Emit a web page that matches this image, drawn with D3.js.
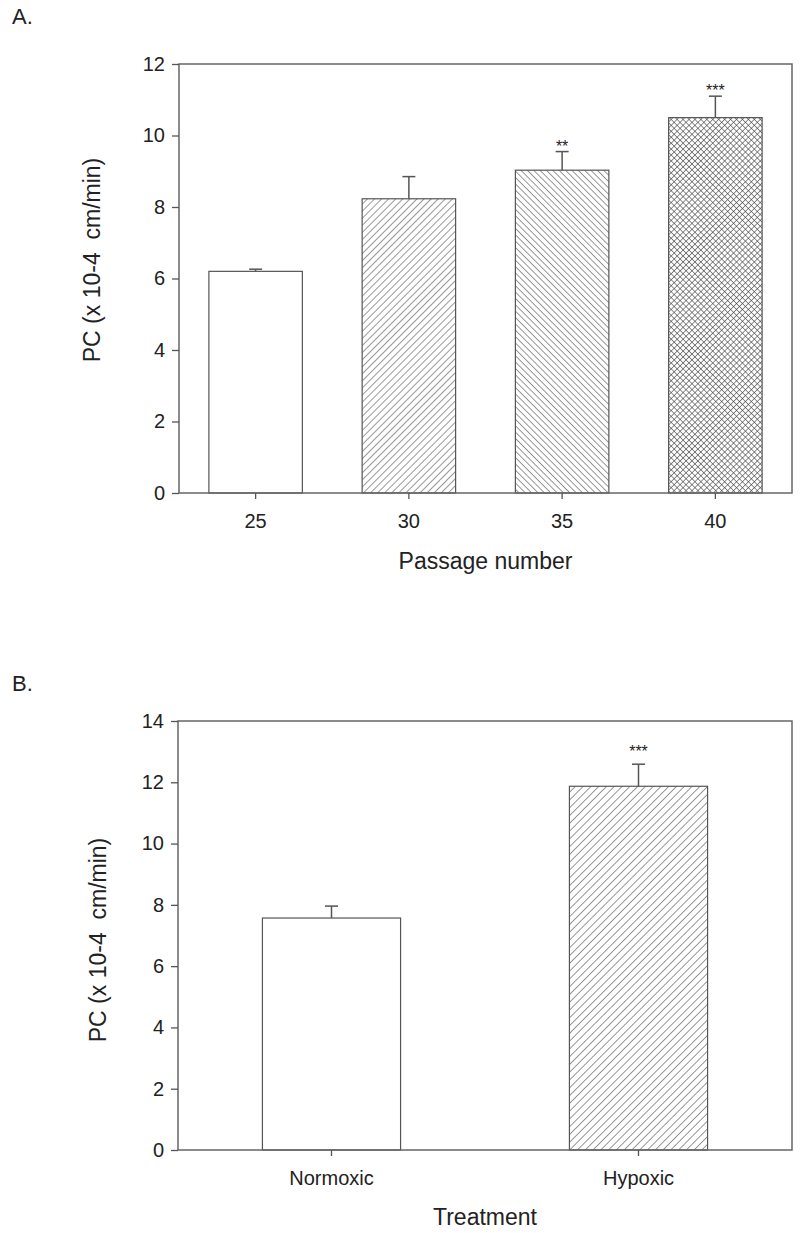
<!DOCTYPE html>
<html><head><meta charset="utf-8">
<script src="https://cdn.jsdelivr.net/npm/d3@7"></script>
<style>
body{margin:0;background:#fff;}
text{font-family:"Liberation Sans",Arial,sans-serif;fill:#222;}
</style></head>
<body>
<svg id="chart" width="800" height="1233"></svg>
<script>
// Panel A data
const passageCategories = ["25","30","35","40"];
const passageMeans = [6.2, 8.23, 9.03, 10.5];
const passageErrors = [0.06, 0.62, 0.52, 0.6];
const passageSig = ["", "", "**", "***"];
const passageFills = ["none","fwd","back","cross"];
const yTicksA = [0,2,4,6,8,10,12];

// Panel B data
const treatmentCategories = ["Normoxic","Hypoxic"];
const treatmentMeans = [7.57, 11.87];
const treatmentErrors = [0.39, 0.72];
const treatmentSig = ["", "***"];
const treatmentFills = ["none","fwd2"];
const yTicksB = [0,2,4,6,8,10,12,14];

const yTitle = "PC (x 10-4  cm/min)";

const svg = d3.select("#chart");
const defs = svg.append("defs");
const ink = "#444";

function hatch(id, spacing, angle){
  const p = defs.append("pattern").attr("id", id)
    .attr("patternUnits","userSpaceOnUse")
    .attr("width", spacing).attr("height", spacing)
    .attr("patternTransform", `rotate(${angle})`);
  p.append("rect").attr("width",spacing).attr("height",spacing).attr("fill","#fff");
  p.append("line").attr("x1",0).attr("y1",0).attr("x2",0).attr("y2",spacing)
    .attr("stroke",ink).attr("stroke-width",1.1);
}
hatch("fwd", 5, 45);
hatch("back", 4.5, -45);
hatch("fwd2", 5.5, 45);
{
  const s = 4.2;
  const p = defs.append("pattern").attr("id","cross")
    .attr("patternUnits","userSpaceOnUse").attr("width",s).attr("height",s)
    .attr("patternTransform","rotate(45)");
  p.append("rect").attr("width",s).attr("height",s).attr("fill","#fff");
  p.append("line").attr("x1",0).attr("y1",0).attr("x2",0).attr("y2",s).attr("stroke",ink).attr("stroke-width",1.2);
  p.append("line").attr("x1",0).attr("y1",0).attr("x2",s).attr("y2",0).attr("stroke",ink).attr("stroke-width",1.2);
}

function panel(opts){
  const {cats, means, errs, sig, fills, ticks, x0, x1, yBottom, yTop, yMax, sigOffset,
         padIn, padOut, tickFont, xTitle, xTitleY, tickLabelY, yTitleX, yTitleY, label, labelY} = opts;
  const x = d3.scaleBand().domain(cats).range([x0, x1]).paddingInner(padIn).paddingOuter(padOut);
  const y = d3.scaleLinear().domain([0, yMax]).range([yBottom, yTop]);
  const g = svg.append("g");

  // bars
  g.selectAll("rect.bar").data(cats).enter().append("rect")
    .attr("x", d => x(d)).attr("width", x.bandwidth())
    .attr("y", (d,i) => y(means[i])).attr("height", (d,i) => y(0) - y(means[i]))
    .attr("fill", (d,i) => fills[i] === "none" ? "#fff" : `url(#${fills[i]})`)
    .attr("stroke", "#555").attr("stroke-width", 1.2);

  // error bars
  g.selectAll("line.err").data(cats).enter().append("line")
    .attr("x1", d => x(d) + x.bandwidth()/2).attr("x2", d => x(d) + x.bandwidth()/2)
    .attr("y1", (d,i) => y(means[i])).attr("y2", (d,i) => y(means[i] + errs[i]))
    .attr("stroke", "#555").attr("stroke-width", 1.5);
  g.selectAll("line.cap").data(cats).enter().append("line")
    .attr("x1", d => x(d) + x.bandwidth()/2 - 6.5).attr("x2", d => x(d) + x.bandwidth()/2 + 6.5)
    .attr("y1", (d,i) => y(means[i] + errs[i])).attr("y2", (d,i) => y(means[i] + errs[i]))
    .attr("stroke", "#555").attr("stroke-width", 1.5);

  // significance
  g.selectAll("text.sig").data(cats).enter().append("text")
    .attr("x", d => x(d) + x.bandwidth()/2)
    .attr("y", (d,i) => y(means[i] + errs[i]) - sigOffset)
    .attr("text-anchor","middle").attr("font-size", 16).attr("fill","#444")
    .text((d,i) => sig[i]);

  // frame
  g.append("rect").attr("x", x0).attr("y", yTop).attr("width", x1 - x0).attr("height", yBottom - yTop)
    .attr("fill","none").attr("stroke","#666").attr("stroke-width",1.5);

  // axes
  const ax = g.append("g").attr("transform", `translate(0,${yBottom})`)
    .call(d3.axisBottom(x).tickSize(6).tickSizeOuter(0).tickPadding(0));
  ax.select(".domain").remove();
  ax.selectAll("line").attr("stroke","#555").attr("stroke-width",1.3);
  ax.selectAll("text").attr("font-size", tickFont).attr("fill","#222")
    .attr("y", tickLabelY - yBottom).attr("dy", 0).attr("font-family","Liberation Sans, Arial, sans-serif");

  const ay = g.append("g").attr("transform", `translate(${x0},0)`)
    .call(d3.axisLeft(y).tickValues(ticks).tickFormat(d3.format("d")).tickSize(7).tickSizeOuter(0).tickPadding(7));
  ay.select(".domain").remove();
  ay.selectAll("line").attr("stroke","#555").attr("stroke-width",1.3);
  ay.selectAll("text").attr("font-size", 20).attr("fill","#222").attr("font-family","Liberation Sans, Arial, sans-serif");

  // titles
  g.append("text").attr("x", (x0 + x1)/2).attr("y", xTitleY).attr("text-anchor","middle")
    .attr("font-size", 23).text(xTitle);
  g.append("text").attr("transform", `translate(${yTitleX},${yTitleY}) rotate(-90)`)
    .attr("text-anchor","middle").attr("font-size", 23).style("white-space","pre").text(yTitle);
  svg.append("text").attr("x", 12).attr("y", labelY).attr("font-size", 22).text(label);
}

panel({cats: passageCategories, means: passageMeans, errs: passageErrors, sig: passageSig, fills: passageFills,
  ticks: yTicksA, x0: 179, x1: 792, yBottom: 493, yTop: 64, yMax: 12, padIn: 0.39, padOut: 0.195, sigOffset: 0,
  tickFont: 20, xTitle: "Passage number", xTitleY: 569, tickLabelY: 528, yTitleX: 100, yTitleY: 260,
  label: "A.", labelY: 24});

panel({cats: treatmentCategories, means: treatmentMeans, errs: treatmentErrors, sig: treatmentSig, fills: treatmentFills,
  ticks: yTicksB, x0: 178, x1: 792, yBottom: 1150, yTop: 721, yMax: 14, padIn: 0.55, padOut: 0.275, sigOffset: 7,
  tickFont: 20, xTitle: "Treatment", xTitleY: 1225, tickLabelY: 1185, yTitleX: 106, yTitleY: 940,
  label: "B.", labelY: 691});
</script>
</body></html>
